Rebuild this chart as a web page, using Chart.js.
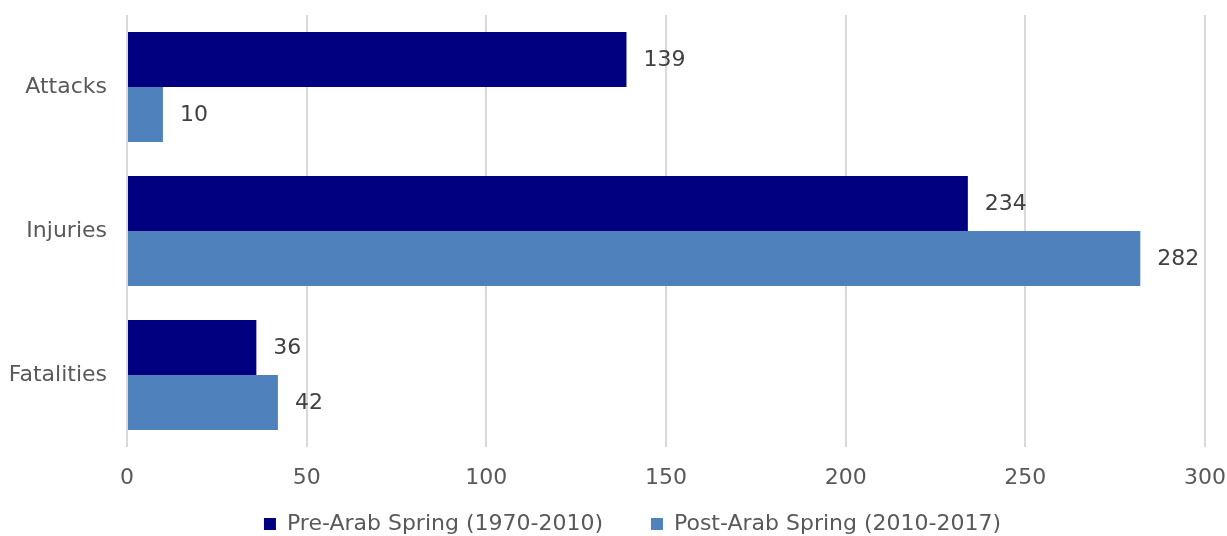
<!DOCTYPE html>
<html>
<head>
<meta charset="utf-8">
<script src="https://cdn.jsdelivr.net/npm/chart.js@4.4.0/dist/chart.umd.min.js"></script>
<style>
  html, body { margin: 0; padding: 0; background: #fff; }
  #wrap { width: 1227px; height: 536px; }
</style>
</head>
<body>
<div id="wrap"><canvas id="myChart"></canvas></div>
<script>
const categories = ["Attacks", "Injuries", "Fatalities"];
const preValues = [139, 234, 36];
const postValues = [10, 282, 42];
const seriesNames = ["Pre-Arab Spring (1970-2010)", "Post-Arab Spring (2010-2017)"];
const xTicks = [0, 50, 100, 150, 200, 250, 300];

const fontFamily = "'DejaVu Sans', Verdana, sans-serif";

// draw the value next to the end of each bar
const barLabels = {
    id: "barLabels",
    afterDatasetsDraw(chart) {
        const ctx = chart.ctx;
        ctx.save();
        ctx.font = "22px " + fontFamily;
        ctx.fillStyle = "#404040";
        ctx.textAlign = "left";
        ctx.textBaseline = "middle";
        chart.data.datasets.forEach((ds, i) => {
            chart.getDatasetMeta(i).data.forEach((bar, j) => {
                ctx.fillText(ds.data[j], bar.x + 17, bar.y + 1);
            });
        });
        ctx.restore();
    }
};

// the legend row sits a bit right of the canvas centre in the original
const legendShift = {
    id: "legendShift",
    afterLayout(chart) {
        chart.legend.left += 30;
        chart.legend.right += 30;
    }
};

new Chart("myChart", {
    type: "bar",
    data: {
        labels: categories,
        datasets: [{
            label: seriesNames[0],
            backgroundColor: "#000080",
            data: preValues
        }, {
            label: seriesNames[1],
            backgroundColor: "#4F81BD",
            data: postValues
        }]
    },
    options: {
        indexAxis: "y",
        responsive: true,
        maintainAspectRatio: false,
        animation: false,
        categoryPercentage: 0.764,
        barPercentage: 1.0,
        layout: { padding: { top: 15, right: 22, left: 0, bottom: -9 } },
        scales: {
            x: {
                min: 0,
                max: 300,
                afterBuildTicks(axis) {
                    axis.ticks = xTicks.map(v => ({ value: v }));
                },
                grid: { color: "#d9d9d9", lineWidth: 2, drawTicks: false },
                border: { display: false },
                ticks: {
                    color: "#595959",
                    padding: 18,
                    font: { family: fontFamily, size: 22 }
                },
                afterFit(axis) {
                    axis.height = 46;
                    axis.paddingLeft = 0;
                    axis.paddingRight = 0;
                }
            },
            y: {
                grid: { display: false },
                border: { display: false },
                ticks: {
                    color: "#595959",
                    padding: 12,
                    font: { family: fontFamily, size: 22 }
                },
                afterFit(axis) {
                    axis.width = 127;
                    axis.paddingTop = 0;
                    axis.paddingBottom = 0;
                }
            }
        },
        plugins: {
            legend: {
                position: "bottom",
                labels: {
                    color: "#595959",
                    boxWidth: 12,
                    boxHeight: 12,
                    padding: 20,
                    font: { family: fontFamily, size: 22 },
                    generateLabels(chart) {
                        const items = Chart.defaults.plugins.legend.labels.generateLabels(chart);
                        // spaces widen the gap between the two items
                        items[0].text += "    ";
                        return items;
                    }
                }
            },
            tooltip: { enabled: false }
        }
    },
    plugins: [barLabels, legendShift]
});
</script>
</body>
</html>
